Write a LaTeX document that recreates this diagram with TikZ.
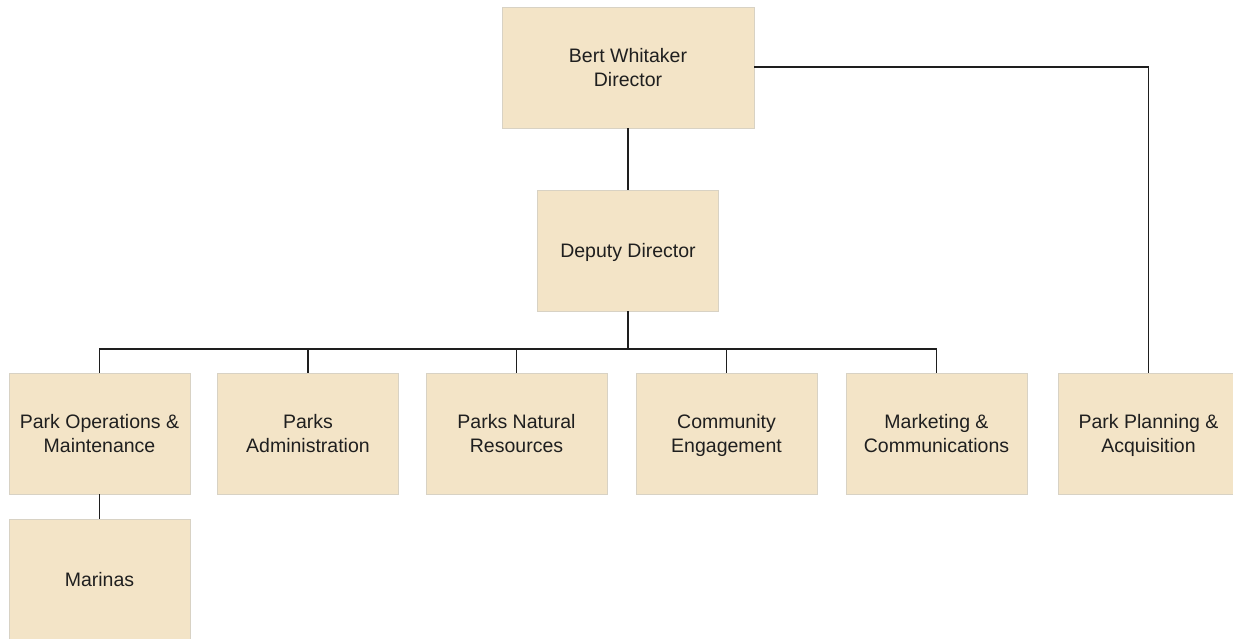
\documentclass[tikz,border=0pt]{standalone}
\usepackage{fontspec}
\setmainfont{Liberation Sans}
\definecolor{boxfill}{HTML}{F3E4C7}
\definecolor{boxline}{HTML}{D8D2C4}
\definecolor{linkcol}{HTML}{1E1E1E}
% first-line strut: a little taller so the text block sits slightly lower in its box
\newcommand{\firstline}{\rule{0pt}{21pt}}
\begin{document}
\begin{tikzpicture}[x=1pt,y=-1pt,
  unit/.style={draw=boxline,fill=boxfill,line width=0.8pt,minimum width=181pt,minimum height=121pt,
    align=center,inner sep=0pt,text=black!88,font=\fontsize{19.5}{24}\selectfont},
  link/.style={draw=linkcol,line width=1.5pt}]
\useasboundingbox (0,0) rectangle (1233,639);
\node[unit,minimum width=252pt] (dir) at (628,67.5) {\firstline Bert Whitaker\\\strut Director};
\node[unit] (dep) at (628,250.5) {\firstline\strut Deputy Director};
\node[unit] (ops) at (99.5,433.5) {\firstline Park Operations \&\\\strut Maintenance};
\node[unit] (adm) at (308,433.5) {\firstline Parks\\\strut Administration};
\node[unit] (nat) at (516.5,433.5) {\firstline Parks Natural\\\strut Resources};
\node[unit] (com) at (726.5,433.5) {\firstline Community\\\strut Engagement};
\node[unit] (mkt) at (936.5,433.5) {\firstline Marketing \&\\\strut Communications};
\node[unit] (pln) at (1148.5,433.5) {\firstline Park Planning \&\\\strut Acquisition};
\node[unit] (mar) at (99.5,579.5) {\firstline\strut Marinas};
\coordinate (bus) at (628,349);
\draw[link] (dir) -- (dep);
\draw[link] (dep) -- (bus);
\draw[link] (ops.north) |- (bus) -| (mkt.north);
\foreach \n in {adm,nat,com} \draw[link] (\n.north) -- (\n.north |- bus);
\draw[link] (dir.east |- 0,67) -| (pln.north);
\draw[link] (ops) -- (mar);
\end{tikzpicture}
\end{document}
